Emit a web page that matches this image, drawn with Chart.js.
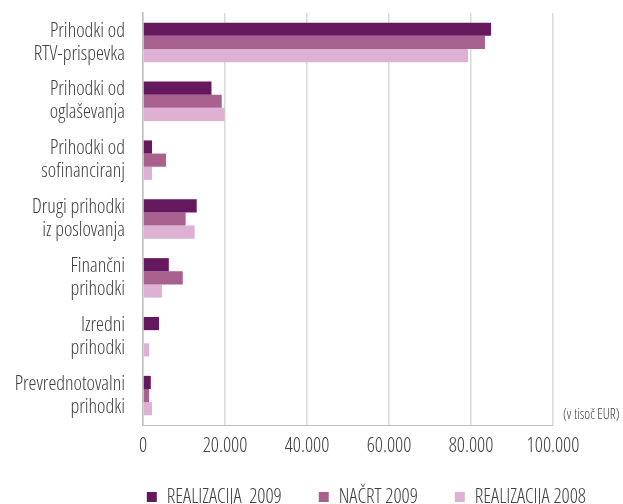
<!DOCTYPE html>
<html>
<head>
<meta charset="utf-8">
<script src="https://cdn.jsdelivr.net/npm/chart.js@4.4.1/dist/chart.umd.min.js"></script>
<style>
  html, body { margin: 0; padding: 0; background: #fff; }
</style>
</head>
<body>
<canvas id="myChart" width="623" height="504"></canvas>
<script>
const categories = [
    ["Prihodki od", "RTV-prispevka"],
    ["Prihodki od", "oglaševanja"],
    ["Prihodki od", "sofinanciranj"],
    ["Drugi prihodki", "iz poslovanja"],
    ["Finančni", "prihodki"],
    ["Izredni", "prihodki"],
    ["Prevrednotovalni", "prihodki"]
];

const real2009 = [84900, 16700, 2200, 13100, 6300, 3900, 1900];
const nacrt2009 = [83400, 19200, 5600, 10400, 9700, 200, 1500];
const real2008 = [79300, 19900, 2200, 12600, 4600, 1500, 2200];

const seriesNames = ["REALIZACIJA  2009", "NAČRT 2009", "REALIZACIJA 2008"];
const seriesColors = ["#66185f", "#a8608f", "#ddb0d4"];

// Open Sans has a width axis, "condensed" picks the narrow cut
// (Chart.js rejects it as a style, so it rides along with the weight)
const fontFamily = '"Open Sans", sans-serif';
const textColor = "#404040";
const baseFont = { family: fontFamily, weight: "300 condensed", size: 20 };

function formatThousands(v) {
    return v.toString().replace(/\B(?=(\d{3})+(?!\d))/g, ".");
}

// unit note right of the plot, legend pulled a bit closer to the axis
const unitNote = {
    id: "unitNote",
    afterLayout(chart) {
        chart.legend.top -= 6;
        chart.legend.bottom -= 6;
    },
    afterDraw(chart) {
        const c = chart.ctx;
        const area = chart.chartArea;
        c.save();
        c.font = "300 condensed 14px " + fontFamily;
        c.fillStyle = textColor;
        c.textAlign = "left";
        c.textBaseline = "middle";
        c.fillText("(v tisoč EUR)", area.right + 10, area.bottom - 10);
        c.restore();
    }
};

const ctx = document.getElementById('myChart').getContext('2d');
const myChart = new Chart(ctx, {
    type: 'bar',
    data: {
        labels: categories,
        datasets: [
            { label: seriesNames[0], data: real2009, backgroundColor: seriesColors[0] },
            { label: seriesNames[1], data: nacrt2009, backgroundColor: seriesColors[1] },
            { label: seriesNames[2], data: real2008, backgroundColor: seriesColors[2] }
        ]
    },
    options: {
        indexAxis: 'y',
        responsive: false,
        animation: false,
        datasets: {
            bar: {
                categoryPercentage: 0.67,
                barPercentage: 1.0,
                borderWidth: 0
            }
        },
        layout: {
            padding: { top: 13, right: 0, left: 0, bottom: -19 }
        },
        plugins: {
            legend: {
                position: 'bottom',
                align: 'end',
                labels: {
                    color: textColor,
                    font: baseFont,
                    boxWidth: 10,
                    boxHeight: 10,
                    padding: 37
                }
            },
            tooltip: { enabled: false }
        },
        scales: {
            x: {
                min: 0,
                max: 100000,
                ticks: {
                    stepSize: 20000,
                    color: textColor,
                    padding: 9,
                    font: baseFont,
                    callback: v => formatThousands(v)
                },
                grid: {
                    color: "#d9d9d9",
                    lineWidth: 1.5,
                    drawTicks: false
                },
                border: { display: true, color: "#bfbfbf", width: 1 },
                afterFit: scale => { scale.height = 31; }
            },
            y: {
                ticks: {
                    color: textColor,
                    padding: 18,
                    autoSkip: false,
                    font: { ...baseFont, lineHeight: 1.15 }
                },
                grid: { display: false, drawTicks: false },
                border: { display: true, color: "#bfbfbf", width: 1.5 },
                afterFit: scale => {
                    scale.width = 143;
                    scale.paddingTop = 0;
                    scale.paddingBottom = 0;
                }
            },
            // empty right-hand axis, only keeps room for the unit note
            y2: {
                type: 'category',
                position: 'right',
                labels: categories,
                ticks: { display: false },
                grid: { display: false, drawTicks: false },
                border: { display: false },
                afterFit: scale => { scale.width = 70; }
            }
        }
    },
    plugins: [unitNote]
});
</script>
</body>
</html>
